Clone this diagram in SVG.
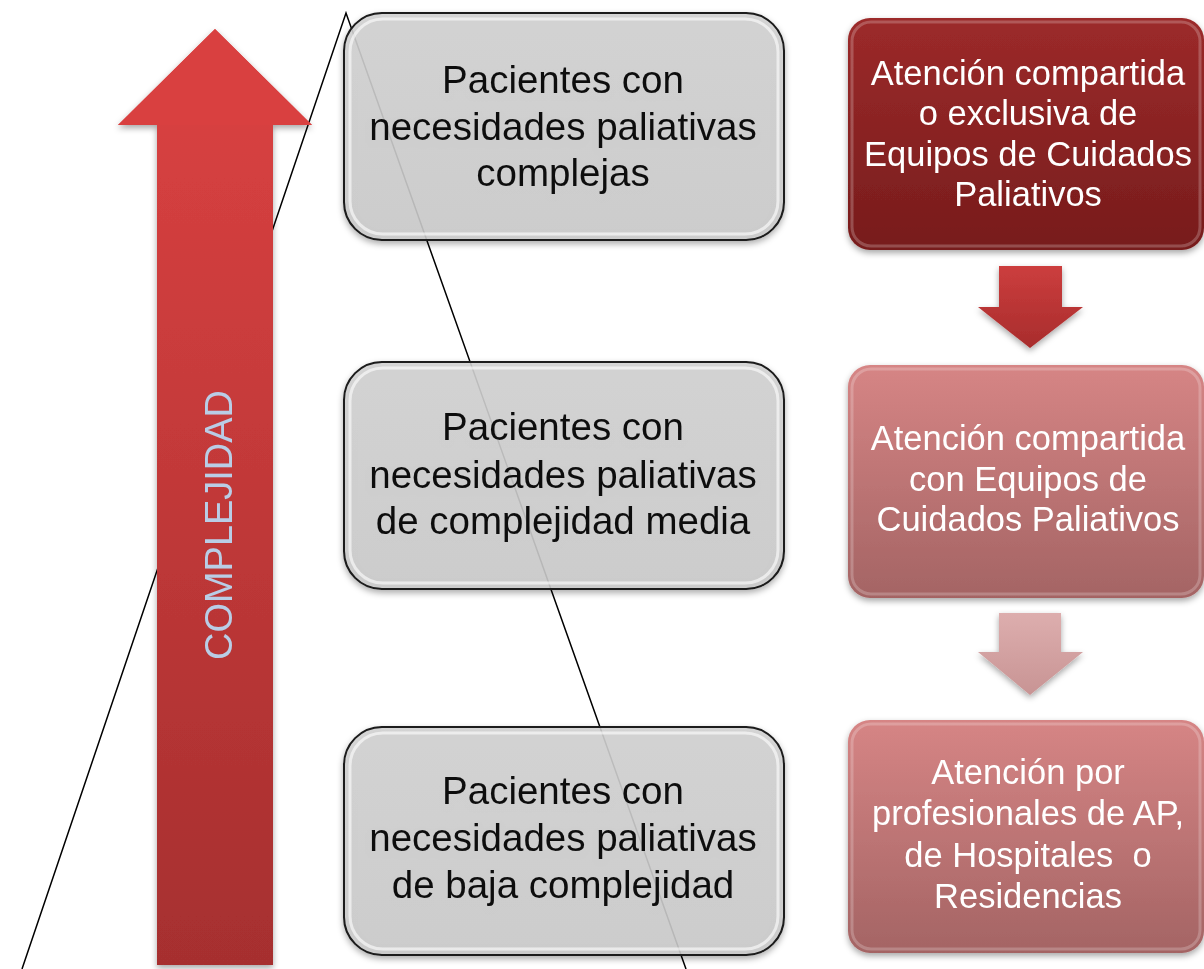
<svg xmlns="http://www.w3.org/2000/svg" width="1204" height="969" viewBox="0 0 1204 969">
<defs>
<linearGradient id="gShaft" x1="0" y1="0" x2="0" y2="1">
<stop offset="0" stop-color="#dc4242"/><stop offset="1" stop-color="#a62f2f"/>
</linearGradient>
<linearGradient id="gGray" x1="0" y1="0" x2="0" y2="1">
<stop offset="0" stop-color="#d2d2d2"/><stop offset="1" stop-color="#cbcbcb"/>
</linearGradient>
<linearGradient id="gDark" x1="0" y1="0" x2="0" y2="1">
<stop offset="0" stop-color="#9c2a2a"/><stop offset="1" stop-color="#771c1c"/>
</linearGradient>
<linearGradient id="gPink" x1="0" y1="0" x2="0" y2="1">
<stop offset="0" stop-color="#d68585"/><stop offset="1" stop-color="#a46464"/>
</linearGradient>
<linearGradient id="gArrow1" x1="0" y1="0" x2="0" y2="1">
<stop offset="0" stop-color="#cc3e3e"/><stop offset="1" stop-color="#a82c2c"/>
</linearGradient>
<linearGradient id="gArrow2" x1="0" y1="0" x2="0" y2="1">
<stop offset="0" stop-color="#ddaeae"/><stop offset="1" stop-color="#c89494"/>
</linearGradient>
<filter id="sh" x="-10%" y="-10%" width="120%" height="125%">
<feDropShadow dx="0" dy="3" stdDeviation="3" flood-color="#000" flood-opacity="0.35"/>
</filter>
</defs>
<style>
.gbox{fill:url(#gGray);fill-opacity:0.88;stroke:#1a1a1a;stroke-width:2}
.ghl{fill:none;stroke:#ffffff;stroke-opacity:0.6;stroke-width:3}
.rhl{fill:none;stroke:#ffffff;stroke-opacity:0.22;stroke-width:3}
.gt{font-family:"Liberation Sans",Arial,sans-serif;font-size:38.5px;fill:#111;text-anchor:middle}
.rt{font-family:"Liberation Sans",Arial,sans-serif;font-size:34.5px;fill:#ffffff;text-anchor:middle}
</style>
<g id="outline">
<polyline points="22,969 346,13 686,969" fill="none" stroke="#000" stroke-width="1.5"/>
</g>
<g id="complexity-arrow" filter="url(#sh)">
<polygon points="215,29 312,125 273,125 273,965 157,965 157,125 118,125" fill="url(#gShaft)"/>
<polygon points="215,29 312,125 118,125" fill="#d94040"/>
<text x="0" y="0" transform="translate(232,525) rotate(-90)" font-family="'Liberation Sans',Arial,sans-serif" font-size="39" fill="#b9cde6" text-anchor="middle" textLength="270" lengthAdjust="spacingAndGlyphs">COMPLEJIDAD</text>
</g>
<g id="box-complejas" filter="url(#sh)">
<rect class="gbox" x="344" y="13" width="440" height="227" rx="38"/>
<rect class="ghl" x="350" y="19" width="428" height="215" rx="33"/>
<text class="gt" x="563" y="93">Pacientes con</text>
<text class="gt" x="563" y="140">necesidades paliativas</text>
<text class="gt" x="563" y="186">complejas</text>
</g>
<g id="box-media" filter="url(#sh)">
<rect class="gbox" x="344" y="362" width="440" height="227" rx="38"/>
<rect class="ghl" x="350" y="368" width="428" height="215" rx="33"/>
<text class="gt" x="563" y="440">Pacientes con</text>
<text class="gt" x="563" y="488">necesidades paliativas</text>
<text class="gt" x="563" y="534">de complejidad media</text>
</g>
<g id="box-baja" filter="url(#sh)">
<rect class="gbox" x="344" y="727" width="440" height="228" rx="38"/>
<rect class="ghl" x="350" y="733" width="428" height="216" rx="33"/>
<text class="gt" x="563" y="804">Pacientes con</text>
<text class="gt" x="563" y="851">necesidades paliativas</text>
<text class="gt" x="563" y="898">de baja complejidad</text>
</g>
<g id="box-exclusiva" filter="url(#sh)">
<rect x="848" y="18" width="356" height="232" rx="22" fill="url(#gDark)"/>
<rect class="rhl" x="852" y="22" width="348" height="224" rx="19"/>
<text class="rt" x="1028" y="85">Atención compartida</text>
<text class="rt" x="1028" y="125">o exclusiva de</text>
<text class="rt" x="1028" y="166">Equipos de Cuidados</text>
<text class="rt" x="1028" y="206">Paliativos</text>
</g>
<g id="box-compartida" filter="url(#sh)">
<rect x="848" y="365" width="356" height="233" rx="22" fill="url(#gPink)"/>
<rect class="rhl" x="852" y="369" width="348" height="225" rx="19"/>
<text class="rt" x="1028" y="450">Atención compartida</text>
<text class="rt" x="1028" y="491">con Equipos de</text>
<text class="rt" x="1028" y="531">Cuidados Paliativos</text>
</g>
<g id="box-ap" filter="url(#sh)">
<rect x="848" y="720" width="356" height="233" rx="22" fill="url(#gPink)"/>
<rect class="rhl" x="852" y="724" width="348" height="225" rx="19"/>
<text class="rt" x="1028" y="784">Atención por</text>
<text class="rt" x="1028" y="825">profesionales de AP,</text>
<text class="rt" x="1028" y="867" xml:space="preserve">de Hospitales  o</text>
<text class="rt" x="1028" y="908">Residencias</text>
</g>
<g id="connectors">
<polygon points="999,266 1062,266 1062,307 1083,307 1030,348 978,307 999,307" fill="url(#gArrow1)" filter="url(#sh)"/>
<polygon points="999,613 1061,613 1061,652 1083,652 1030,695 978,652 999,652" fill="url(#gArrow2)" filter="url(#sh)"/>
</g>
</svg>
